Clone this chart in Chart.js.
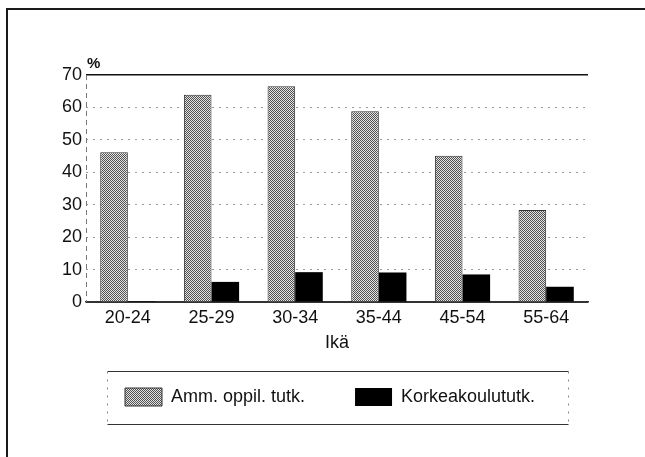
<!DOCTYPE html>
<html>
<head>
<meta charset="utf-8">
<script src="https://cdn.jsdelivr.net/npm/chart.js@4.4.1/dist/chart.umd.min.js"></script>
<style>
  html, body { margin: 0; padding: 0; background: #fff; overflow: hidden; }
  canvas { display: block; }
</style>
</head>
<body>
<canvas id="chart" width="645" height="457"></canvas>
<script>
const ikaryhmat   = ['20-24', '25-29', '30-34', '35-44', '45-54', '55-64'];
const ammOppil    = [46.2, 63.9, 66.5, 58.8, 45.1, 28.4];
const korkeakoulu = [0.3, 6.2, 9.2, 9.1, 8.5, 4.7];
const yTicks      = [0, 10, 20, 30, 40, 50, 60, 70];

Chart.defaults.font.family = '"Liberation Sans", Arial, Helvetica, sans-serif';
Chart.defaults.color = '#111';

// harmaa rasterikuvio (skannatun pisterasterin tapainen)
function rasteri() {
    const c = document.createElement('canvas');
    c.width = 2; c.height = 2;
    const g = c.getContext('2d');
    g.fillStyle = '#e4e4e4';
    g.fillRect(0, 0, 2, 2);
    g.fillStyle = '#505050';
    g.fillRect(0, 0, 1, 1);
    g.fillRect(1, 1, 1, 1);
    return g.createPattern(c, 'repeat');
}

// sivun kehys, y-akselin katkoviiva, %-merkki ja selitteen kehys
const koristeet = {
    id: 'koristeet',
    beforeDraw(chart) {
        const { ctx, width, height } = chart;
        ctx.save();
        ctx.strokeStyle = '#1a1a1a';
        ctx.lineWidth = 2;
        ctx.beginPath();
        ctx.moveTo(7, height);
        ctx.lineTo(7, 9);
        ctx.lineTo(width, 9);
        ctx.stroke();
        ctx.restore();
    },
    afterDraw(chart) {
        const { ctx, chartArea: a, legend } = chart;
        ctx.save();
        ctx.strokeStyle = '#777';
        ctx.lineWidth = 1;
        ctx.setLineDash([5, 4]);
        ctx.beginPath();
        ctx.moveTo(a.left + 0.5, a.top);
        ctx.lineTo(a.left + 0.5, a.bottom);
        ctx.stroke();
        ctx.setLineDash([]);

        ctx.fillStyle = '#111';
        ctx.font = 'bold 15px "Liberation Sans", Arial, sans-serif';
        ctx.textAlign = 'left';
        ctx.textBaseline = 'middle';
        ctx.fillText('%', a.left + 1, a.top - 11);

        const hb = legend.legendHitBoxes;
        if (hb && hb.length) {
            const eka = hb[0], vika = hb[hb.length - 1];
            const cy = eka.top + eka.height / 2;
            const x1 = Math.round(eka.left - 18) + 0.5, x2 = Math.round(vika.left + vika.width + 33) + 0.5;
            const y1 = Math.round(cy - 26) + 0.5, y2 = Math.round(cy + 27) + 0.5;
            ctx.strokeStyle = '#333';
            ctx.lineWidth = 1.2;
            ctx.beginPath();
            ctx.moveTo(x1, y1); ctx.lineTo(x2, y1);
            ctx.moveTo(x1, y2); ctx.lineTo(x2, y2);
            ctx.stroke();
            ctx.strokeStyle = '#888';
            ctx.lineWidth = 1;
            ctx.setLineDash([2, 6]);
            ctx.beginPath();
            ctx.moveTo(x1, y1); ctx.lineTo(x1, y2);
            ctx.moveTo(x2, y1); ctx.lineTo(x2, y2);
            ctx.stroke();
        }
        ctx.restore();
    }
};

new Chart(document.getElementById('chart'), {
    type: 'bar',
    data: {
        labels: ikaryhmat,
        datasets: [
            { label: 'Amm. oppil. tutk.', data: ammOppil, backgroundColor: rasteri(),
              borderColor: '#333', borderWidth: 1, categoryPercentage: 0.66, barPercentage: 1 },
            { label: 'Korkeakoulututk.', data: korkeakoulu, backgroundColor: '#000',
              borderColor: '#000', borderWidth: 0, categoryPercentage: 0.66, barPercentage: 1 }
        ]
    },
    options: {
        responsive: false,
        animation: false,
        layout: { padding: { top: 75, left: 75, right: 57, bottom: 41 } },
        plugins: {
            legend: {
                position: 'bottom',
                align: 'start',
                labels: { boxWidth: 37, boxHeight: 18, padding: 50, font: { size: 18 } }
            },
            tooltip: { enabled: false }
        },
        scales: {
            x: {
                grid: { display: false, drawTicks: false },
                border: { display: true, color: '#333', width: 1.5 },
                ticks: { font: { size: 18 }, padding: 5 },
                title: { display: true, text: 'Ikä', font: { size: 18 }, padding: { top: 0, bottom: -16 } },
                afterFit: s => { s.height = 36; }
            },
            y: {
                min: 0,
                max: 70,
                afterBuildTicks: s => { s.ticks = yTicks.map(v => ({ value: v })); },
                // mirror + far: numerot oikealle tasattuina akselin vasemmalle puolelle ilman leikkausta
                ticks: { font: { size: 18 }, mirror: true, crossAlign: 'far', padding: -24 },
                grid: {
                    drawTicks: false,
                    color: c => c.tick && c.tick.value === 70 ? '#111' : (c.tick && c.tick.value === 0 ? '#333' : '#9a9a9a'),
                    lineWidth: c => c.tick && c.tick.value === 70 ? 1.5 : 1
                },
                border: {
                    display: false,
                    dash: c => c.tick && (c.tick.value === 70 || c.tick.value === 0) ? [] : [2, 5]
                },
                afterFit: s => { s.width = 11; }
            }
        }
    },
    plugins: [koristeet]
});
</script>
</body>
</html>
